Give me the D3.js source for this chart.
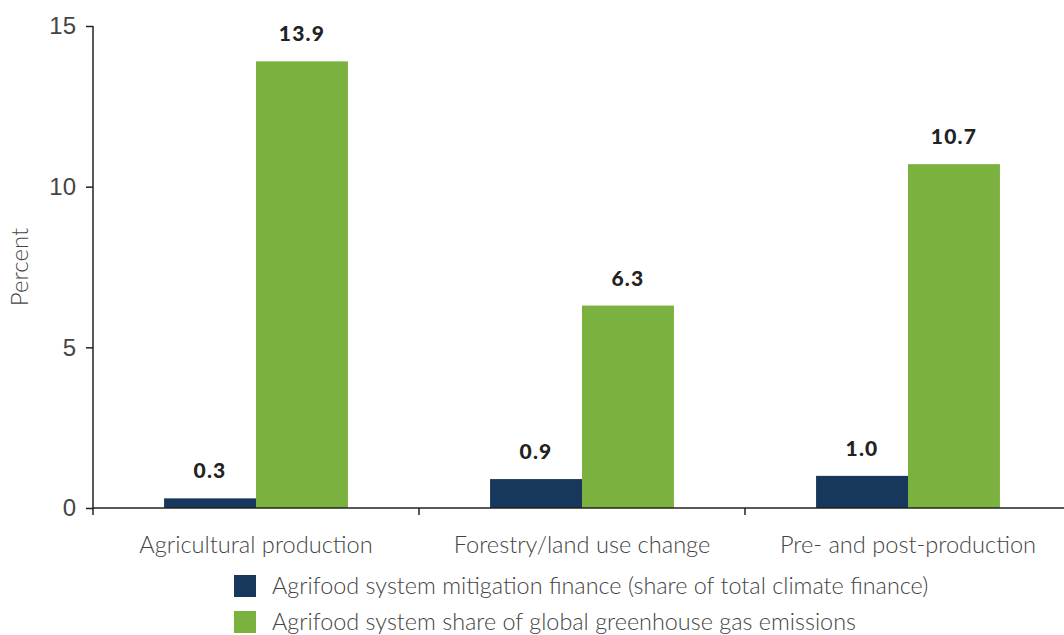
<!DOCTYPE html>
<html>
<head>
<meta charset="utf-8">
<script src="https://cdn.jsdelivr.net/npm/d3@7"></script>
<style>
  html, body { margin: 0; padding: 0; background: #fff; }
  svg { display: block; font-family: Lato, "Open Sans", sans-serif; }
</style>
</head>
<body>
<svg id="chart" width="1064" height="635"></svg>
<script>
// Categories and series
const categories = ["Agricultural production", "Forestry/land use change", "Pre- and post-production"];
const financeShare = [0.3, 0.9, 1.0];
const emissionsShare = [13.9, 6.3, 10.7];
const seriesNames = [
  "Agrifood system mitigation finance (share of total climate finance)",
  "Agrifood system share of global greenhouse gas emissions"
];
const seriesColors = ["#18375c", "#7ab13f"];
const yTicks = [0, 5, 10, 15];

const svg = d3.select("#chart");
const margin = { left: 93, right: -7, top: 26, bottom: 127 };
const W = 1064, H = 635;
const innerW = W - margin.left - margin.right;
const innerH = H - margin.top - margin.bottom;

const g = svg.append("g").attr("transform", `translate(${margin.left},${margin.top})`);

const x0 = d3.scaleBand().domain(categories).range([0, innerW]).paddingInner(0.436).paddingOuter(0.218);
const x = d3.scaleBand().domain([0, 1]).range([0, x0.bandwidth()]);
const y = d3.scaleLinear().domain([0, 15]).range([innerH, 0]);

const rows = categories.map((c, i) => ({ cat: c, vals: [financeShare[i], emissionsShare[i]] }));

// Bars
const groups = g.selectAll("g.cat").data(rows).join("g")
  .attr("class", "cat")
  .attr("transform", d => `translate(${x0(d.cat)},0)`);

groups.selectAll("rect").data(d => d.vals.map((v, k) => ({ v, k }))).join("rect")
  .attr("x", d => x(d.k))
  .attr("width", x.bandwidth())
  .attr("y", d => y(d.v))
  .attr("height", d => innerH - y(d.v))
  .attr("fill", d => seriesColors[d.k]);

// Value labels
groups.selectAll("text.val").data(d => d.vals.map((v, k) => ({ v, k }))).join("text")
  .attr("class", "val")
  .attr("x", d => x(d.k) + x.bandwidth() / 2)
  .attr("y", d => y(d.v) - 20)
  .attr("text-anchor", "middle")
  .attr("font-size", 21)
  .attr("font-weight", 900)
  .attr("letter-spacing", 1.2)
  .attr("fill", "#222")
  .text(d => d.v.toFixed(1));

// Y axis
const yAxis = g.append("g")
  .call(d3.axisLeft(y).tickValues(yTicks).tickSize(7).tickPadding(10).tickFormat(d3.format("d")));
yAxis.select(".domain").attr("stroke", "#222").attr("stroke-width", 1.5).attr("d", `M0,${innerH}V0`);
yAxis.selectAll(".tick line").attr("stroke", "#222").attr("stroke-width", 1.5);
yAxis.selectAll(".tick text").attr("font-size", 24).attr("font-weight", 300).attr("fill", "#444");

// X axis with ticks at band boundaries
const xAxisG = g.append("g").attr("transform", `translate(0,${innerH})`);
xAxisG.append("line").attr("x1", 0).attr("x2", innerW).attr("stroke", "#222").attr("stroke-width", 1.5);
const step = x0.step();
xAxisG.selectAll("line.tk").data(d3.range(categories.length)).join("line")
  .attr("class", "tk")
  .attr("x1", i => i * step).attr("x2", i => i * step)
  .attr("y1", 0).attr("y2", 7)
  .attr("stroke", "#222").attr("stroke-width", 1.5);
xAxisG.selectAll("text").data(categories).join("text")
  .attr("x", d => x0(d) + x0.bandwidth() / 2)
  .attr("y", 45)
  .attr("text-anchor", "middle")
  .attr("font-size", 23.6)
  .attr("font-weight", 300)
  .attr("fill", "#444")
  .text(d => d);

// Y title
svg.append("text")
  .attr("transform", `translate(28,${margin.top + innerH / 2}) rotate(-90)`)
  .attr("text-anchor", "middle")
  .attr("font-size", 24)
  .attr("font-weight", 300)
  .attr("fill", "#444")
  .text("Percent");

// Legend
const legend = svg.append("g").attr("transform", "translate(234,575)");
const li = legend.selectAll("g").data(seriesNames).join("g")
  .attr("transform", (d, i) => `translate(0,${i * 36})`);
li.append("rect").attr("width", 22).attr("height", 22).attr("fill", (d, i) => seriesColors[i]);
li.append("text").attr("x", 38).attr("y", 19)
  .attr("font-size", 23.4).attr("font-weight", 300).attr("fill", "#444")
  .text(d => d);
</script>
</body>
</html>
